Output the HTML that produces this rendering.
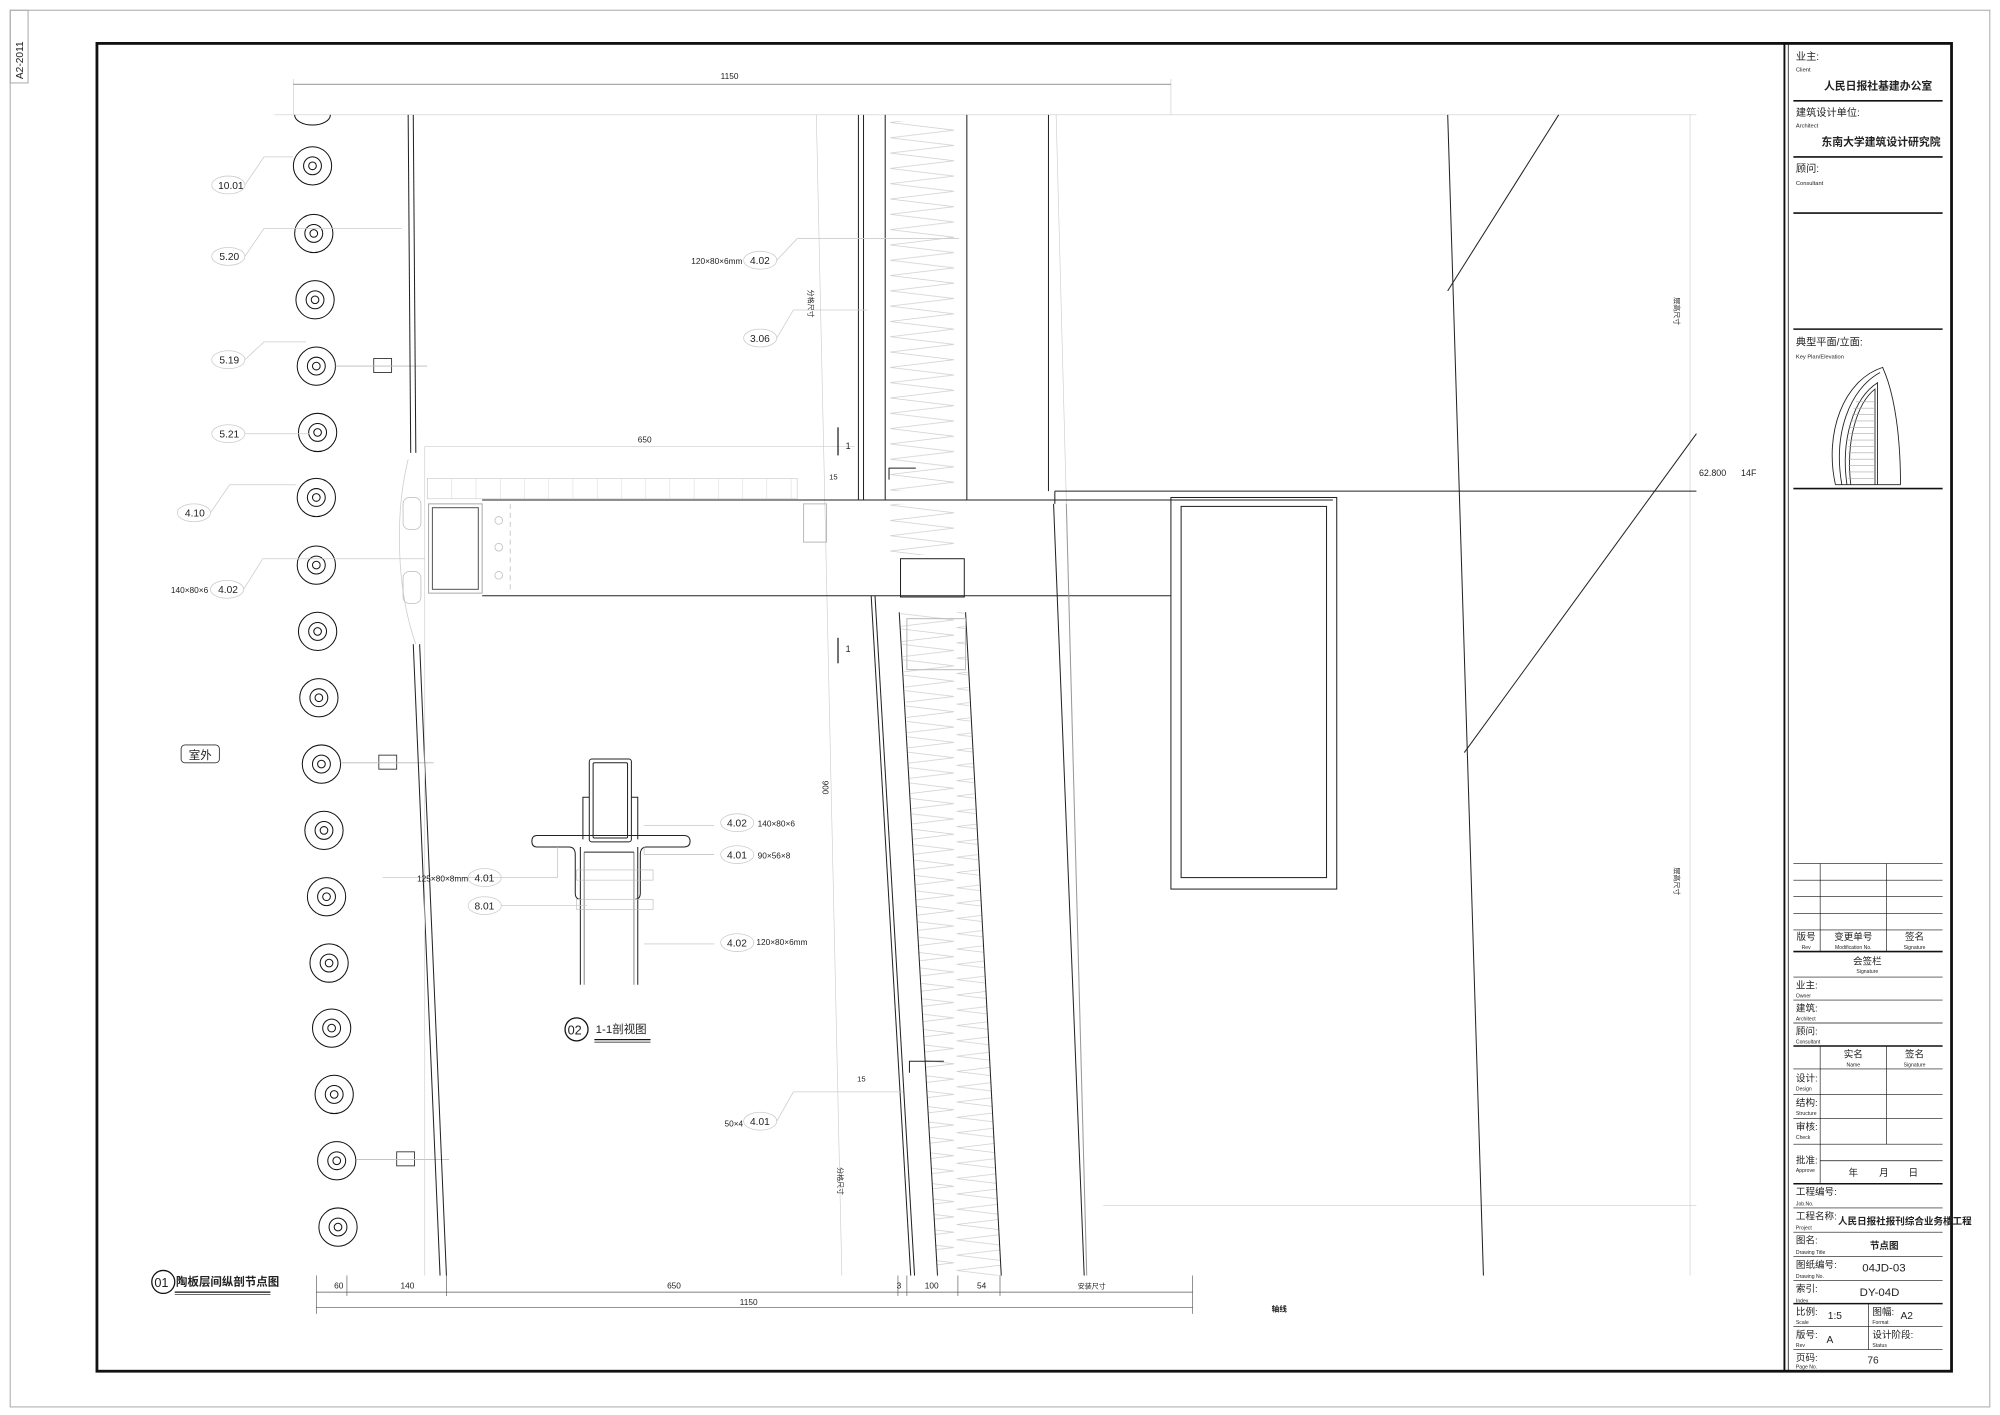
<!DOCTYPE html>
<html><head><meta charset="utf-8"><style>
html,body{margin:0;padding:0;background:#fff}
svg{display:block}
text{font-family:"Liberation Sans","Noto Sans CJK SC",sans-serif;fill:#222}
</style></head><body>
<svg width="2000" height="1415" viewBox="0 0 1568 1109.3" xmlns="http://www.w3.org/2000/svg">
<defs>
<pattern id="zz" width="52" height="12" patternUnits="userSpaceOnUse" x="697">
<polyline points="1,0 51,6 1,12" fill="none" stroke="#ccc" stroke-width="0.5"/>
</pattern>
<pattern id="lv" width="19" height="16" patternUnits="userSpaceOnUse" x="335">
<line x1="0" y1="0" x2="0" y2="16" stroke="#ccc" stroke-width="0.6"/>
</pattern>
</defs>
<rect width="1568" height="1110" fill="#fff"/>
<rect x="8" y="8" width="1552" height="1095" fill="none" stroke="#aaa" stroke-width="0.8"/>
<rect x="8" y="8" width="14" height="57" fill="none" stroke="#aaa" stroke-width="0.8"/>
<text x="0" y="0" font-size="8" fill="#888" transform="translate(18,62) rotate(-90)">A2-2011</text>
<rect x="76" y="34" width="1454" height="1041" fill="none" stroke="#111" stroke-width="2.2"/>
<line x1="1399" y1="34" x2="1399" y2="1075" stroke="#111" stroke-width="1.5"/>
<line x1="1402" y1="34" x2="1402" y2="1075" stroke="#111" stroke-width="0.6"/>

<g stroke="#111">
<line x1="1406" y1="79" x2="1523" y2="79" stroke-width="1.2"/>
<line x1="1406" y1="123" x2="1523" y2="123" stroke-width="1.2"/>
<line x1="1406" y1="167" x2="1523" y2="167" stroke-width="1.2"/>
<line x1="1406" y1="258" x2="1523" y2="258" stroke-width="1.2"/>
<line x1="1406" y1="383" x2="1523" y2="383" stroke-width="1.2"/>
<g stroke-width="0.5">
<line x1="1406" y1="677" x2="1523" y2="677"/><line x1="1406" y1="690" x2="1523" y2="690"/>
<line x1="1406" y1="703" x2="1523" y2="703"/><line x1="1406" y1="716" x2="1523" y2="716"/>
<line x1="1406" y1="729" x2="1523" y2="729"/>
<line x1="1427" y1="677" x2="1427" y2="746"/><line x1="1479" y1="677" x2="1479" y2="746"/>
<line x1="1406" y1="766" x2="1523" y2="766"/><line x1="1406" y1="784" x2="1523" y2="784"/>
<line x1="1406" y1="802" x2="1523" y2="802"/>
<line x1="1406" y1="838" x2="1523" y2="838"/><line x1="1406" y1="858" x2="1523" y2="858"/>
<line x1="1406" y1="877" x2="1523" y2="877"/><line x1="1406" y1="897" x2="1523" y2="897"/>
<line x1="1427" y1="820" x2="1427" y2="928"/><line x1="1479" y1="820" x2="1479" y2="897"/>
<line x1="1427" y1="910" x2="1523" y2="910"/>
<line x1="1406" y1="947" x2="1523" y2="947"/><line x1="1406" y1="966" x2="1523" y2="966"/>
<line x1="1406" y1="985" x2="1523" y2="985"/><line x1="1406" y1="1004" x2="1523" y2="1004"/>
<line x1="1406" y1="1040" x2="1523" y2="1040"/><line x1="1406" y1="1058" x2="1523" y2="1058"/>
<line x1="1465" y1="1022" x2="1465" y2="1058"/>
</g>
<line x1="1406" y1="746" x2="1523" y2="746" stroke-width="1.2"/>
<line x1="1406" y1="820" x2="1523" y2="820" stroke-width="1.2"/>
<line x1="1406" y1="928" x2="1523" y2="928" stroke-width="1.2"/>
<line x1="1406" y1="1022" x2="1523" y2="1022" stroke-width="1.2"/>
</g>
<g font-size="8">
<text x="1408" y="47">业主:</text><text x="1408" y="56" font-size="4.5">Client</text>
<text x="1430" y="70" font-size="8.5" font-weight="bold">人民日报社基建办公室</text>
<text x="1408" y="91">建筑设计单位:</text><text x="1408" y="100" font-size="4.5">Architect</text>
<text x="1428" y="114" font-size="8.5" font-weight="bold">东南大学建筑设计研究院</text>
<text x="1408" y="135">顾问:</text><text x="1408" y="145" font-size="4.5">Consultant</text>
<text x="1408" y="271">典型平面/立面:</text><text x="1408" y="281" font-size="4.5">Key Plan/Elevation</text>
</g>
<g fill="none" stroke="#222" stroke-width="0.7">
<path d="M1439,380 C1430,340 1445,298 1476,288 C1486,310 1490,345 1490,380"/>
<path d="M1444,380 C1437,340 1450,305 1474,292"/>
<path d="M1448,380 C1443,345 1453,312 1472,300 L1472,380"/>
<path d="M1451,380 C1447,345 1456,316 1470,305 L1470,380"/>
<line x1="1439" y1="380" x2="1490" y2="380"/>
</g>
<g stroke="#aaa" stroke-width="0.5">
<line x1="1455" y1="315" x2="1470" y2="315"/><line x1="1453" y1="320" x2="1470" y2="320"/>
<line x1="1452" y1="325" x2="1470" y2="325"/><line x1="1451" y1="330" x2="1470" y2="330"/>
<line x1="1450" y1="335" x2="1470" y2="335"/><line x1="1450" y1="340" x2="1470" y2="340"/>
<line x1="1449" y1="345" x2="1470" y2="345"/><line x1="1449" y1="350" x2="1470" y2="350"/>
<line x1="1449" y1="355" x2="1470" y2="355"/><line x1="1449" y1="360" x2="1470" y2="360"/>
<line x1="1449" y1="365" x2="1470" y2="365"/><line x1="1449" y1="370" x2="1470" y2="370"/>
<line x1="1449" y1="375" x2="1470" y2="375"/>
</g>
<g font-size="7.5" text-anchor="middle">
<text x="1416" y="737">版号</text><text x="1416" y="744" font-size="4">Rev</text>
<text x="1453" y="737">变更单号</text><text x="1453" y="744" font-size="4">Modification No.</text>
<text x="1501" y="737">签名</text><text x="1501" y="744" font-size="4">Signature</text>
<text x="1464" y="756">会签栏</text><text x="1464" y="763" font-size="4">Signature</text>
<text x="1453" y="829">实名</text><text x="1453" y="836" font-size="4">Name</text>
<text x="1501" y="829">签名</text><text x="1501" y="836" font-size="4">Signature</text>
<text x="1453" y="922">年</text><text x="1477" y="922">月</text><text x="1500" y="922">日</text>
</g>
<g font-size="7.5">
<text x="1408" y="775">业主:</text><text x="1408" y="782" font-size="4">Owner</text>
<text x="1408" y="793">建筑:</text><text x="1408" y="800" font-size="4">Architect</text>
<text x="1408" y="811">顾问:</text><text x="1408" y="818" font-size="4">Consultant</text>
<text x="1408" y="848">设计:</text><text x="1408" y="855" font-size="4">Design</text>
<text x="1408" y="867">结构:</text><text x="1408" y="874" font-size="4">Structure</text>
<text x="1408" y="886">审核:</text><text x="1408" y="893" font-size="4">Check</text>
<text x="1408" y="912">批准:</text><text x="1408" y="919" font-size="4">Approve</text>
<text x="1408" y="937">工程编号:</text><text x="1408" y="945" font-size="4">Job.No.</text>
<text x="1408" y="956">工程名称:</text><text x="1408" y="964" font-size="4">Project</text>
<text x="1441" y="960" font-size="7.5" font-weight="bold">人民日报社报刊综合业务楼工程</text>
<text x="1408" y="975">图名:</text><text x="1408" y="983" font-size="4">Drawing Title</text>
<text x="1466" y="979" font-size="7.5" font-weight="bold">节点图</text>
<text x="1408" y="994">图纸编号:</text><text x="1408" y="1002" font-size="4">Drawing No.</text>
<text x="1460" y="997" font-size="9">04JD-03</text>
<text x="1408" y="1013">索引:</text><text x="1408" y="1021" font-size="4">Index</text>
<text x="1458" y="1016" font-size="9">DY-04D</text>
<text x="1408" y="1031">比例:</text><text x="1408" y="1038" font-size="4">Scale</text>
<text x="1433" y="1034" font-size="8">1:5</text>
<text x="1468" y="1031">图幅:</text><text x="1468" y="1038" font-size="4">Format</text>
<text x="1490" y="1034" font-size="8">A2</text>
<text x="1408" y="1049">版号:</text><text x="1408" y="1056" font-size="4">Rev</text>
<text x="1432" y="1053" font-size="8">A</text>
<text x="1468" y="1049">设计阶段:</text><text x="1468" y="1056" font-size="4">Status</text>
<text x="1408" y="1067">页码:</text><text x="1408" y="1073" font-size="4">Page No.</text>
<text x="1464" y="1069" font-size="8">76</text>
</g>

<g stroke="#ccc" stroke-width="0.5" fill="none">
<line x1="215" y1="90" x2="1330" y2="90"/>
<line x1="230" y1="62" x2="230" y2="90"/><line x1="918" y1="62" x2="918" y2="90"/>
<line x1="1325" y1="90" x2="1325" y2="1000"/>
<line x1="640" y1="90" x2="660" y2="1000"/>
<line x1="828" y1="90" x2="852" y2="1000"/>
<line x1="865" y1="945" x2="1330" y2="945"/>
<line x1="333" y1="350" x2="670" y2="350"/>
</g>
<line x1="230" y1="66" x2="918" y2="66" stroke="#555" stroke-width="0.5"/>
<text x="565" y="62" font-size="6.5">1150</text>
<g fill="none" stroke="#111" stroke-width="0.8">
<path d="M231,90 A14,8 0 0 0 259,90"/>
<circle cx="245" cy="130" r="15"/><circle cx="245" cy="130" r="7"/><circle cx="245" cy="130" r="3"/>
<circle cx="246" cy="183" r="15"/><circle cx="246" cy="183" r="7"/><circle cx="246" cy="183" r="3"/>
<circle cx="247" cy="235" r="15"/><circle cx="247" cy="235" r="7"/><circle cx="247" cy="235" r="3"/>
<circle cx="248" cy="287" r="15"/><circle cx="248" cy="287" r="7"/><circle cx="248" cy="287" r="3"/>
<circle cx="249" cy="339" r="15"/><circle cx="249" cy="339" r="7"/><circle cx="249" cy="339" r="3"/>
<circle cx="248" cy="390" r="15"/><circle cx="248" cy="390" r="7"/><circle cx="248" cy="390" r="3"/>
<circle cx="248" cy="443" r="15"/><circle cx="248" cy="443" r="7"/><circle cx="248" cy="443" r="3"/>
<circle cx="249" cy="495" r="15"/><circle cx="249" cy="495" r="7"/><circle cx="249" cy="495" r="3"/>
<circle cx="250" cy="547" r="15"/><circle cx="250" cy="547" r="7"/><circle cx="250" cy="547" r="3"/>
<circle cx="252" cy="599" r="15"/><circle cx="252" cy="599" r="7"/><circle cx="252" cy="599" r="3"/>
<circle cx="254" cy="651" r="15"/><circle cx="254" cy="651" r="7"/><circle cx="254" cy="651" r="3"/>
<circle cx="256" cy="703" r="15"/><circle cx="256" cy="703" r="7"/><circle cx="256" cy="703" r="3"/>
<circle cx="258" cy="755" r="15"/><circle cx="258" cy="755" r="7"/><circle cx="258" cy="755" r="3"/>
<circle cx="260" cy="806" r="15"/><circle cx="260" cy="806" r="7"/><circle cx="260" cy="806" r="3"/>
<circle cx="262" cy="858" r="15"/><circle cx="262" cy="858" r="7"/><circle cx="262" cy="858" r="3"/>
<circle cx="264" cy="910" r="15"/><circle cx="264" cy="910" r="7"/><circle cx="264" cy="910" r="3"/>
<circle cx="265" cy="962" r="15"/><circle cx="265" cy="962" r="7"/><circle cx="265" cy="962" r="3"/>
</g>
<g stroke="#333" stroke-width="0.7" fill="none">
<rect x="293" y="281" width="14" height="11"/><line x1="263" y1="287" x2="335" y2="287" stroke="#bbb"/>
<rect x="297" y="592" width="14" height="11"/><line x1="267" y1="598" x2="340" y2="598" stroke="#bbb"/>
<rect x="311" y="903" width="14" height="11"/><line x1="279" y1="909" x2="352" y2="909" stroke="#bbb"/>
</g>
<g font-size="8" stroke="#ccc" stroke-width="0.6">
<ellipse cx="179" cy="145" rx="13" ry="7" fill="none"/><text x="171" y="148" stroke="none">10.01</text>
<ellipse cx="179" cy="201" rx="13" ry="7" fill="none"/><text x="172" y="204" stroke="none">5.20</text>
<ellipse cx="179" cy="282" rx="13" ry="7" fill="none"/><text x="172" y="285" stroke="none">5.19</text>
<ellipse cx="179" cy="340" rx="13" ry="7" fill="none"/><text x="172" y="343" stroke="none">5.21</text>
<ellipse cx="152" cy="402" rx="13" ry="7" fill="none"/><text x="145" y="405" stroke="none">4.10</text>
<ellipse cx="178" cy="462" rx="13" ry="7" fill="none"/><text x="171" y="465" stroke="none">4.02</text>
<text x="134" y="465" font-size="6.5" stroke="none">140×80×6</text>
<polyline points="192,145 207,123 230,123" fill="none"/>
<polyline points="192,201 207,179 315,179" fill="none"/>
<polyline points="192,282 207,268 240,268" fill="none"/>
<polyline points="192,340 207,340 243,340" fill="none"/>
<polyline points="165,402 180,380 232,380" fill="none"/>
<polyline points="191,462 206,438 333,438" fill="none"/>
</g>
<rect x="142" y="584" width="30" height="14" rx="3" fill="none" stroke="#333" stroke-width="0.7"/>
<text x="148" y="595" font-size="9">室外</text>
<g stroke="#222" stroke-width="0.8">
<line x1="320" y1="90" x2="322" y2="355"/><line x1="324" y1="90" x2="326" y2="355"/>
<line x1="324" y1="505" x2="345" y2="1000"/><line x1="329" y1="505" x2="350" y2="1000"/>
</g>
<path d="M320,360 C310,400 310,460 326,505" fill="none" stroke="#ccc" stroke-width="0.6"/>
<rect x="316" y="390" width="14" height="25" rx="5" fill="none" stroke="#bbb" stroke-width="0.6"/>
<rect x="316" y="448" width="14" height="25" rx="5" fill="none" stroke="#bbb" stroke-width="0.6"/>
<rect x="335" y="375" width="290" height="16" fill="url(#lv)" stroke="#ccc" stroke-width="0.5"/>
<line x1="333" y1="350" x2="333" y2="1000" stroke="#ccc" stroke-width="0.5"/>
<g stroke="#222" stroke-width="0.8" fill="none">
<line x1="378" y1="392" x2="1045" y2="392"/>
<line x1="378" y1="467" x2="918" y2="467"/>
<rect x="336" y="395" width="42" height="70" stroke="#aaa"/>
<rect x="339" y="398" width="36" height="64" stroke="#555"/>
<rect x="630" y="395" width="18" height="30" stroke="#bbb"/>
<rect x="706" y="438" width="50" height="30"/>
</g>
<g fill="none" stroke="#bbb" stroke-width="0.6">
<circle cx="391" cy="408" r="3"/><circle cx="391" cy="429" r="3"/><circle cx="391" cy="451" r="3"/>
<line x1="400" y1="395" x2="400" y2="465" stroke-dasharray="4,3"/>
</g>
<text x="500" y="347" font-size="6.5">650</text>
<line x1="657" y1="335" x2="657" y2="357" stroke="#222" stroke-width="1"/>
<text x="663" y="352" font-size="7">1</text>
<line x1="657" y1="500" x2="657" y2="520" stroke="#222" stroke-width="1"/>
<text x="663" y="511" font-size="7">1</text>
<rect x="697" y="95" width="52" height="290" fill="url(#zz)"/>
<rect x="697" y="395" width="52" height="40" fill="url(#zz)"/>
<polygon points="706,480 756,480 785,1000 735,1000" fill="url(#zz)"/>
<g stroke="#222" stroke-width="0.8" fill="none">
<line x1="673" y1="90" x2="673" y2="392"/><line x1="677" y1="90" x2="677" y2="392"/>
<line x1="694" y1="90" x2="694" y2="392"/>
<line x1="758" y1="90" x2="758" y2="392"/>
<line x1="683" y1="467" x2="714" y2="1000"/><line x1="686" y1="467" x2="717" y2="1000"/>
<line x1="705" y1="480" x2="735" y2="1000"/>
<line x1="757" y1="480" x2="785" y2="1000"/>
<line x1="822" y1="90" x2="822" y2="385"/><line x1="826" y1="395" x2="850" y2="1000"/>
<line x1="836" y1="395" x2="852" y2="1000" stroke="#999"/>
<path d="M697,376 L697,367 L718,367"/><path d="M713,841 L713,832 L740,832"/>
<rect x="711" y="485" width="46" height="40" stroke="#bbb"/>
</g>
<text x="0" y="0" font-size="6.5" transform="translate(645,612) rotate(90)">900</text>
<text x="0" y="0" font-size="5.5" transform="translate(634,227) rotate(90)">分格尺寸</text>
<text x="0" y="0" font-size="5.5" transform="translate(657,915) rotate(90)">分格尺寸</text>
<text x="0" y="0" font-size="5.5" transform="translate(1313,233) rotate(90)">层高尺寸</text>
<text x="0" y="0" font-size="5.5" transform="translate(1313,680) rotate(90)">层高尺寸</text>
<text x="650" y="376" font-size="6">15</text>
<text x="672" y="848" font-size="6">15</text>
<g font-size="8" stroke="#ccc" stroke-width="0.6">
<ellipse cx="596" cy="204" rx="13" ry="7" fill="none"/><text x="588" y="207" stroke="none">4.02</text>
<text x="542" y="207" font-size="6.5" stroke="none">120×80×6mm</text>
<line x1="609" y1="204" x2="625" y2="187"/><line x1="625" y1="187" x2="752" y2="187"/>
<ellipse cx="596" cy="265" rx="13" ry="7" fill="none"/><text x="588" y="268" stroke="none">3.06</text>
<polyline points="609,265 622,243 680,243" fill="none"/>
<ellipse cx="596" cy="879" rx="13" ry="7" fill="none"/><text x="588" y="882" stroke="none">4.01</text>
<text x="568" y="883" font-size="6.5" stroke="none">50×4</text>
<polyline points="609,879 622,856 708,856" fill="none"/>
</g>
<g stroke="#222" stroke-width="0.8" fill="none">
<line x1="1135" y1="90" x2="1163" y2="1000"/>
<line x1="1135" y1="228" x2="1222" y2="90"/>
<line x1="1148" y1="590" x2="1330" y2="340"/>
<line x1="827" y1="385" x2="1330" y2="385"/>
<line x1="827" y1="385" x2="827" y2="395"/>
<rect x="918" y="390" width="130" height="307"/>
<rect x="926" y="397" width="114" height="291"/>
</g>
<text x="1332" y="373" font-size="7">62.800</text>
<text x="1365" y="373" font-size="7">14F</text>
<g stroke="#222" stroke-width="0.8" fill="none">
<rect x="462" y="595" width="33" height="65" rx="2"/>
<rect x="465" y="598" width="27" height="59" rx="1"/>
<path d="M457,658 L457,625 L462,625"/><path d="M500,658 L500,625 L495,625"/>
<path d="M421,655 L536,655 Q541,655 541,659.5 Q541,664 536,664 L507,664 Q502,664 502,670 L502,700 Q502,705 498,705 M455,705 Q451,705 451,700 L451,670 Q451,664 446,664 L421,664 Q417,664 417,659.5 Q417,655 421,655"/>
<line x1="455" y1="664" x2="455" y2="772"/><line x1="500" y1="664" x2="500" y2="772"/>
<line x1="458" y1="668" x2="458" y2="772" stroke="#888"/><line x1="497" y1="668" x2="497" y2="772" stroke="#888"/>
<line x1="458" y1="668" x2="497" y2="668"/>
</g>
<g stroke="#bbb" stroke-width="0.5" fill="none">
<rect x="452" y="682" width="60" height="8"/><rect x="452" y="705" width="60" height="8"/>
<polyline points="437,664 437,688 300,688"/>
<polyline points="505,664 505,670 560,670"/>
<line x1="505" y1="647" x2="560" y2="647"/>
<line x1="505" y1="740" x2="560" y2="740"/>
</g>
<g font-size="8" stroke="#ccc" stroke-width="0.6">
<ellipse cx="578" cy="645" rx="13" ry="7" fill="none"/><text x="570" y="648" stroke="none">4.02</text>
<text x="594" y="648" font-size="6.5" stroke="none">140×80×6</text>
<ellipse cx="578" cy="670" rx="13" ry="7" fill="none"/><text x="570" y="673" stroke="none">4.01</text>
<text x="594" y="673" font-size="6.5" stroke="none">90×56×8</text>
<ellipse cx="578" cy="739" rx="13" ry="7" fill="none"/><text x="570" y="742" stroke="none">4.02</text>
<text x="593" y="741" font-size="6.5" stroke="none">120×80×6mm</text>
<ellipse cx="380" cy="688" rx="13" ry="7" fill="none"/><text x="372" y="691" stroke="none">4.01</text>
<text x="327" y="691" font-size="6.5" stroke="none">125×80×8mm</text>
<ellipse cx="380" cy="710" rx="13" ry="7" fill="none"/><text x="372" y="713" stroke="none">8.01</text>
<line x1="393" y1="710" x2="460" y2="710"/>
</g>
<circle cx="452" cy="807" r="9" fill="none" stroke="#111" stroke-width="1"/>
<text x="445" y="811" font-size="10">02</text>
<text x="467" y="810" font-size="9">1-1剖视图</text>
<line x1="466" y1="815" x2="510" y2="815" stroke="#111" stroke-width="1"/>
<line x1="466" y1="817" x2="510" y2="817" stroke="#111" stroke-width="0.5"/>
<circle cx="128" cy="1005" r="9" fill="none" stroke="#111" stroke-width="1"/>
<text x="121" y="1009" font-size="10">01</text>
<text x="138" y="1008" font-size="9" font-weight="bold">陶板层间纵剖节点图</text>
<line x1="137" y1="1013" x2="212" y2="1013" stroke="#111" stroke-width="1"/>
<line x1="137" y1="1015" x2="212" y2="1015" stroke="#111" stroke-width="0.5"/>
<g stroke="#555" stroke-width="0.5">
<line x1="248" y1="1013" x2="935" y2="1013"/>
<line x1="248" y1="1000" x2="248" y2="1030"/><line x1="272" y1="1000" x2="272" y2="1016"/>
<line x1="350" y1="1000" x2="350" y2="1016"/><line x1="704" y1="1000" x2="704" y2="1016"/>
<line x1="711" y1="1000" x2="711" y2="1016"/><line x1="751" y1="1000" x2="751" y2="1016"/>
<line x1="784" y1="1000" x2="784" y2="1016"/><line x1="935" y1="1000" x2="935" y2="1030"/>
<line x1="248" y1="1025" x2="935" y2="1025"/>
</g>
<g font-size="6.5">
<text x="262" y="1010">60</text><text x="314" y="1010">140</text><text x="523" y="1010">650</text>
<text x="703" y="1010">3</text><text x="725" y="1010">100</text><text x="766" y="1010">54</text>
<text x="845" y="1010" font-size="5.5">安装尺寸</text>
<text x="580" y="1023">1150</text>
<text x="997" y="1028" font-size="6" font-weight="bold">轴线</text>
</g>
</svg>
</body></html>
